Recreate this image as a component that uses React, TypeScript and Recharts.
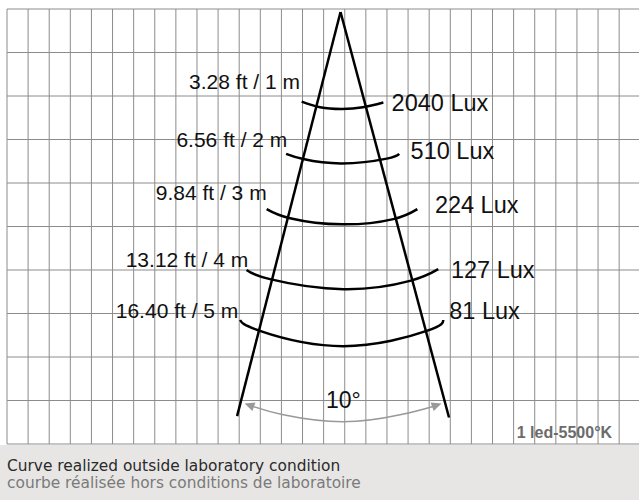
import React from 'react';
import { ComposedChart, Line, Scatter, XAxis, YAxis, ReferenceLine } from 'recharts';

// Grid ticks (grid units: columns and rows)
const xGridTicks = [0, 1, 2, 3, 4, 5, 6, 7, 8, 9, 10, 11, 12, 13, 14, 15, 16, 17, 18, 19, 20, 21, 22, 23, 24, 25, 26, 27, 28, 29];
const yGridTicks = [0, 1, 2, 3, 4, 5, 6, 7, 8, 9, 10];

// Beam cone edges
const coneLeft = [
  { x: 15.8, y: 0.07 },
  { x: 10.9, y: 9.36 },
];
const coneRight = [
  { x: 15.8, y: 0.07 },
  { x: 20.94, y: 9.39 },
];

// Iso-distance arcs
const arc1m = [
  { x: 13.96, y: 2.13 },
  { x: 14.83, y: 2.26 },
  { x: 15.87, y: 2.3 },
  { x: 16.86, y: 2.26 },
  { x: 17.83, y: 2.15 },
];
const arc2m = [
  { x: 13.22, y: 3.33 },
  { x: 14.04, y: 3.45 },
  { x: 15.87, y: 3.55 },
  { x: 17.99, y: 3.44 },
  { x: 18.58, y: 3.33 },
];
const arc3m = [
  { x: 12.3, y: 4.6 },
  { x: 13.41, y: 4.81 },
  { x: 15.87, y: 4.95 },
  { x: 18.3, y: 4.83 },
  { x: 19.44, y: 4.6 },
];
const arc4m = [
  { x: 11.35, y: 6.0 },
  { x: 12.46, y: 6.21 },
  { x: 15.93, y: 6.44 },
  { x: 19.09, y: 6.25 },
  { x: 20.43, y: 5.98 },
];
const arc5m = [
  { x: 11.04, y: 7.15 },
  { x: 11.98, y: 7.4 },
  { x: 15.93, y: 7.75 },
  { x: 19.88, y: 7.4 },
  { x: 20.67, y: 7.15 },
];

// Beam angle arc
const angleArc = [
  { x: 11.61, y: 9.13 },
  { x: 13.09, y: 9.33 },
  { x: 15.92, y: 9.49 },
  { x: 18.62, y: 9.33 },
  { x: 20.23, y: 9.13 },
];

// Labels
const distanceLabels = [
  { x: 13.88, y: 1.84, text: '3.28 ft / 1 m' },
  { x: 13.28, y: 3.17, text: '6.56 ft / 2 m' },
  { x: 12.3, y: 4.39, text: '9.84 ft / 3 m' },
  { x: 11.43, y: 5.92, text: '13.12 ft / 4 m' },
  { x: 10.96, y: 7.1, text: '16.40 ft / 5 m' },
];
const luxLabels = [
  { x: 18.22, y: 2.34, text: '2040 Lux' },
  { x: 19.12, y: 3.45, text: '510 Lux' },
  { x: 20.27, y: 4.7, text: '224 Lux' },
  { x: 21.03, y: 6.18, text: '127 Lux' },
  { x: 20.95, y: 7.13, text: '81 Lux' },
];
const angleLabel = [{ x: 15.11, y: 9.17, text: '10°' }];
const ledLabel = [{ x: 24.15, y: 9.86, text: '1 led-5500°K' }];
const noteLines = [
  'Curve realized outside laboratory condition',
  'courbe réalisée hors conditions de laboratoire',
];

const FONT = '"Liberation Sans", Arial, sans-serif';

const makeTextShape =
  (anchor: string, size: number, weight: string, color: string) =>
  (props: any) => (
    <text
      x={props.cx}
      y={props.cy}
      textAnchor={anchor}
      fontSize={size}
      fontWeight={weight}
      fill={color}
      fontFamily={FONT}
    >
      {props.payload.text}
    </text>
  );

const arrowDot = (props: any) => {
  const { cx, cy, index } = props;
  const last = angleArc.length - 1;
  if (index !== 0 && index !== last) return <g key={`d${index}`} />;
  const ang = index === 0 ? (200 * Math.PI) / 180 : (-20 * Math.PI) / 180;
  const dx = Math.cos(ang);
  const dy = Math.sin(ang);
  const L = 10;
  const W = 4.5;
  const tip = [cx + dx * L * 0.8, cy + dy * L * 0.8];
  const b1 = [cx - dx * L * 0.2 - dy * W, cy - dy * L * 0.2 + dx * W];
  const b2 = [cx - dx * L * 0.2 + dy * W, cy - dy * L * 0.2 - dx * W];
  return (
    <polygon
      key={`d${index}`}
      points={`${tip[0]},${tip[1]} ${b1[0]},${b1[1]} ${b2[0]},${b2[1]}`}
      fill="#999999"
    />
  );
};

const arcs = [arc1m, arc2m, arc3m, arc4m, arc5m];

export default function App() {
  return (
    <div style={{ position: 'absolute', left: 0, top: 0, width: 639, height: 500, background: '#ffffff', overflow: 'hidden' }}>
      <ComposedChart width={639} height={445} margin={{ top: 9, right: 0, bottom: 1, left: 7 }}>
        <XAxis
          type="number"
          dataKey="x"
          domain={[0, 29.94]}
          ticks={xGridTicks}
          allowDataOverflow
          hide
        />
        <YAxis
          type="number"
          dataKey="y"
          domain={[0, 10]}
          ticks={yGridTicks}
          reversed
          allowDataOverflow
          hide
        />
        {xGridTicks.map((t) => (
          <ReferenceLine key={`vx${t}`} x={t} stroke="#8c8c8c" strokeWidth={1} ifOverflow="visible" />
        ))}
        {yGridTicks.map((t) => (
          <ReferenceLine key={`hy${t}`} y={t} stroke="#8c8c8c" strokeWidth={1} ifOverflow="visible" />
        ))}
        <Line data={angleArc} dataKey="y" type="natural" stroke="#999999" strokeWidth={1.5} dot={arrowDot} isAnimationActive={false} />
        <Line data={coneLeft} dataKey="y" type="linear" stroke="#000" strokeWidth={2.5} dot={false} isAnimationActive={false} />
        <Line data={coneRight} dataKey="y" type="linear" stroke="#000" strokeWidth={2.5} dot={false} isAnimationActive={false} />
        {arcs.map((a, i) => (
          <Line key={i} data={a} dataKey="y" type="natural" stroke="#000" strokeWidth={2.5} dot={false} isAnimationActive={false} />
        ))}
        <Scatter data={distanceLabels} dataKey="y" shape={makeTextShape('end', 21, 'normal', '#111')} isAnimationActive={false} />
        <Scatter data={luxLabels} dataKey="y" shape={makeTextShape('start', 23.5, 'normal', '#111')} isAnimationActive={false} />
        <Scatter data={angleLabel} dataKey="y" shape={makeTextShape('start', 23, 'normal', '#111')} isAnimationActive={false} />
        <Scatter data={ledLabel} dataKey="y" shape={makeTextShape('start', 16, 'bold', '#6b6b6b')} isAnimationActive={false} />
      </ComposedChart>
      <div style={{ position: 'absolute', left: 0, top: 445, width: 639, height: 55, background: '#e7e6e5' }}>
        <div style={{ position: 'absolute', left: 7, top: 13, fontFamily: '"DejaVu Sans", sans-serif', fontSize: 15.4, lineHeight: '17px', whiteSpace: 'nowrap' }}>
          <div style={{ color: '#2a2a2a' }}>{noteLines[0]}</div>
          <div style={{ color: '#7a7a7a' }}>{noteLines[1]}</div>
        </div>
      </div>
    </div>
  );
}
